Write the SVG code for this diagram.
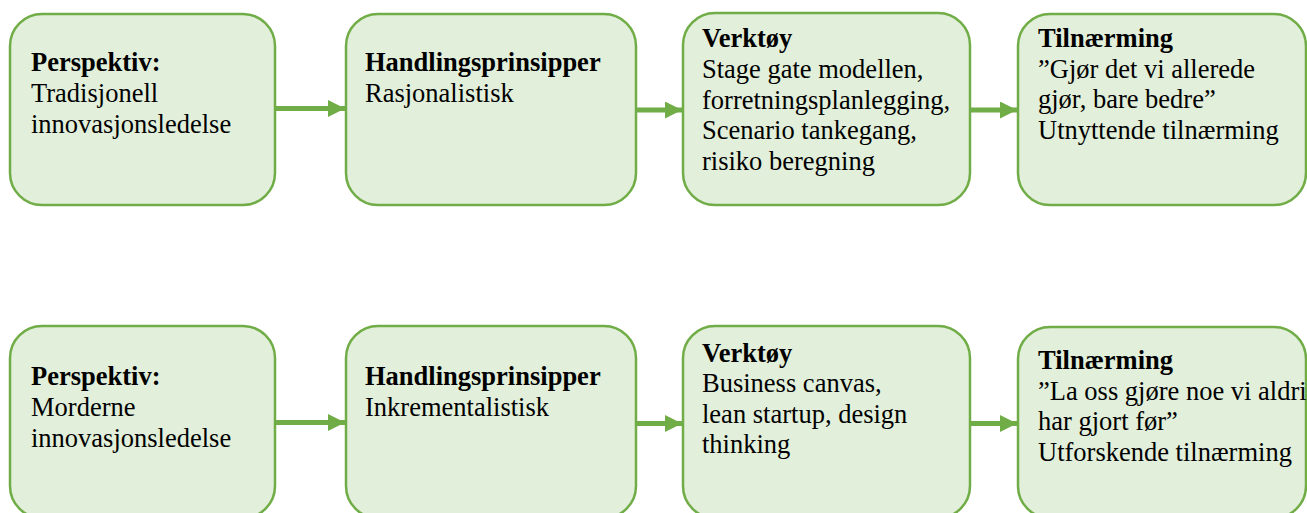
<svg xmlns="http://www.w3.org/2000/svg" width="1307" height="513" viewBox="0 0 1307 513">
<style>
.box{fill:#E2EFDA;stroke:#70AD47;stroke-width:2.5}
.t{font-family:"Liberation Serif","Times New Roman",serif;font-size:26.5px;fill:#000}
.b{font-weight:bold}
.c{stroke:#70AD47;stroke-width:5;fill:none}
</style>
<defs>
<marker id="ah" markerUnits="userSpaceOnUse" markerWidth="18" markerHeight="18" refX="17" refY="8.5" orient="auto">
<path d="M0,0 L17,8.5 L0,17 Z" fill="#70AD47"/>
</marker>
</defs>
<g id="connectors">
<line class="c" x1="276" y1="108.5" x2="345" y2="108.5" marker-end="url(#ah)"/>
<line class="c" x1="637" y1="110" x2="682" y2="110" marker-end="url(#ah)"/>
<line class="c" x1="971" y1="110" x2="1017" y2="110" marker-end="url(#ah)"/>
<line class="c" x1="276" y1="422.5" x2="345" y2="422.5" marker-end="url(#ah)"/>
<line class="c" x1="637" y1="423.5" x2="682" y2="423.5" marker-end="url(#ah)"/>
<line class="c" x1="971" y1="423.5" x2="1017" y2="423.5" marker-end="url(#ah)"/>
</g>
<g id="n1">
<rect class="box" x="10" y="14" width="265" height="191" rx="32"/>
<text class="t" x="31"><tspan class="b" x="31" y="71">Perspektiv:</tspan><tspan x="31" y="101.5">Tradisjonell</tspan><tspan x="31" y="132.5">innovasjonsledelse</tspan></text>
</g>
<g id="n2">
<rect class="box" x="346" y="14" width="290" height="191" rx="32"/>
<text class="t"><tspan class="b" x="365" y="71">Handlingsprinsipper</tspan><tspan x="365" y="101.5">Rasjonalistisk</tspan></text>
</g>
<g id="n3">
<rect class="box" x="683" y="13" width="287" height="192" rx="32"/>
<text class="t"><tspan class="b" x="702" y="47">Verktøy</tspan><tspan x="702" y="78">Stage gate modellen,</tspan><tspan x="702" y="108.5">forretningsplanlegging,</tspan><tspan x="702" y="139">Scenario tankegang,</tspan><tspan x="702" y="169.5">risiko beregning</tspan></text>
</g>
<g id="n4">
<rect class="box" x="1018" y="14" width="288" height="191" rx="32"/>
<text class="t"><tspan class="b" x="1038" y="47">Tilnærming</tspan><tspan x="1038" y="77.5">”Gjør det vi allerede</tspan><tspan x="1038" y="108">gjør, bare bedre”</tspan><tspan x="1038" y="138.5">Utnyttende tilnærming</tspan></text>
</g>
<g id="n5">
<rect class="box" x="10" y="326" width="265" height="192" rx="32"/>
<text class="t"><tspan class="b" x="31" y="385">Perspektiv:</tspan><tspan x="31" y="415.5">Morderne</tspan><tspan x="31" y="446.5">innovasjonsledelse</tspan></text>
</g>
<g id="n6">
<rect class="box" x="346" y="326" width="290" height="192" rx="32"/>
<text class="t"><tspan class="b" x="365" y="385">Handlingsprinsipper</tspan><tspan x="365" y="415.5">Inkrementalistisk</tspan></text>
</g>
<g id="n7">
<rect class="box" x="683" y="326" width="287" height="192" rx="32"/>
<text class="t"><tspan class="b" x="702" y="361.5">Verktøy</tspan><tspan x="702" y="392">Business canvas,</tspan><tspan x="702" y="422.5">lean startup, design</tspan><tspan x="702" y="453">thinking</tspan></text>
</g>
<g id="n8">
<rect class="box" x="1018" y="327" width="288" height="191" rx="32"/>
<text class="t"><tspan class="b" x="1038" y="369">Tilnærming</tspan><tspan x="1038" y="399.5">”La oss gjøre noe vi aldri</tspan><tspan x="1038" y="430">har gjort før”</tspan><tspan x="1038" y="460.5">Utforskende tilnærming</tspan></text>
</g>
</svg>
